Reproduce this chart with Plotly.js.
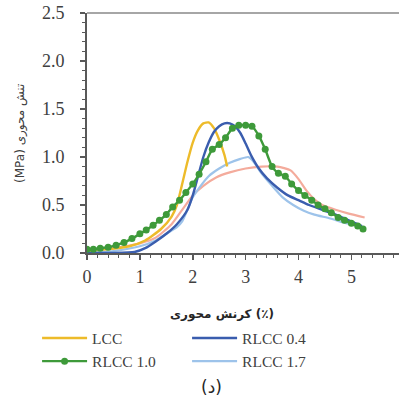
<!DOCTYPE html>
<html><head><meta charset="utf-8">
<script src="https://cdn.plot.ly/plotly-3.0.1.min.js"></script>
<style>html,body{margin:0;padding:0;background:#fff}#c{width:399px;height:396px}</style>
</head><body><div id="c"></div>
<script>
// LCC
const lccX = [0, 0.4, 0.8, 1.1, 1.4, 1.6, 1.7, 1.8, 1.9, 2.0, 2.1, 2.2, 2.3, 2.4, 2.5, 2.6, 2.65];
const lccY = [0.02, 0.04, 0.07, 0.13, 0.25, 0.38, 0.5, 0.72, 0.95, 1.15, 1.28, 1.35, 1.36, 1.3, 1.18, 1.02, 0.9];
// RLCC 0.4
const r04X = [0, 0.5, 0.9, 1.1, 1.3, 1.5, 1.7, 1.9, 2.0, 2.1, 2.2, 2.3, 2.4, 2.5, 2.6, 2.7, 2.8, 2.9, 3.0, 3.1, 3.25, 3.4, 3.6, 3.8, 4.0, 4.2, 4.45, 4.7, 4.95, 5.2];
const r04Y = [0.0, 0.0, 0.01, 0.05, 0.12, 0.2, 0.3, 0.45, 0.6, 0.8, 1.0, 1.15, 1.26, 1.32, 1.35, 1.35, 1.32, 1.25, 1.14, 1.02, 0.88, 0.78, 0.68, 0.6, 0.55, 0.5, 0.45, 0.4, 0.34, 0.28];
// RLCC 1.0
const r10X = [0, 0.12, 0.25, 0.4, 0.55, 0.7, 0.85, 1.0, 1.12, 1.25, 1.37, 1.5, 1.62, 1.75, 1.87, 2.0, 2.12, 2.25, 2.37, 2.5, 2.62, 2.75, 2.87, 3.0, 3.12, 3.25, 3.37, 3.5, 3.62, 3.75, 3.87, 4.0, 4.12, 4.25, 4.37, 4.5, 4.62, 4.75, 4.87, 5.0, 5.12, 5.22];
const r10Y = [0.04, 0.04, 0.05, 0.06, 0.08, 0.11, 0.15, 0.2, 0.24, 0.29, 0.34, 0.4, 0.48, 0.55, 0.63, 0.72, 0.82, 0.95, 1.08, 1.13, 1.2, 1.3, 1.33, 1.33, 1.32, 1.22, 1.08, 0.9, 0.83, 0.8, 0.72, 0.65, 0.6, 0.55, 0.5, 0.46, 0.42, 0.37, 0.34, 0.31, 0.28, 0.25];
// RLCC 1.7
const r17X = [0, 0.5, 1.0, 1.3, 1.5, 1.7, 1.8, 1.9, 2.0, 2.15, 2.3, 2.5, 2.7, 2.9, 3.05, 3.15, 3.3, 3.5, 3.7, 3.9, 4.1, 4.3, 4.6, 4.9, 5.2];
const r17Y = [0.0, 0.02, 0.07, 0.13, 0.2, 0.27, 0.33, 0.45, 0.58, 0.7, 0.8, 0.88, 0.94, 0.98, 1.0, 0.95, 0.83, 0.7, 0.58, 0.5, 0.44, 0.4, 0.36, 0.31, 0.27];
// unlabelled salmon curve
const extX = [0, 0.5, 1.0, 1.3, 1.6, 1.8, 2.0, 2.2, 2.45, 2.7, 3.0, 3.3, 3.6, 3.85, 4.0, 4.15, 4.3, 4.45, 4.7, 4.95, 5.25];
const extY = [0.02, 0.05, 0.1, 0.16, 0.3, 0.45, 0.6, 0.7, 0.79, 0.84, 0.88, 0.9, 0.9, 0.86, 0.77, 0.65, 0.56, 0.5, 0.45, 0.41, 0.37];

const xTicks = [0, 1, 2, 3, 4, 5];
const yTicks = [0, 0.5, 1.0, 1.5, 2.0, 2.5];
const yTickText = ['0.0', '0.5', '1.0', '1.5', '2.0', '2.5'];

const ln = (c, w) => ({color: c, width: w, shape: 'spline', smoothing: 0.6});
const traces = [
  {x: extX, y: extY, mode: 'lines', line: ln('#F4AB9C', 2.2), showlegend: false, name: ''},
  {x: r17X, y: r17Y, mode: 'lines', line: ln('#9DC3EA', 2.2), name: 'RLCC 1.7', legendrank: 4},
  {x: lccX, y: lccY, mode: 'lines', line: ln('#EDBB2A', 2.4), name: 'LCC', legendrank: 1},
  {x: r04X, y: r04Y, mode: 'lines', line: ln('#3A5DAE', 2.4), name: 'RLCC 0.4', legendrank: 2},
  {x: r10X, y: r10Y, mode: 'lines+markers', line: ln('#3E9A3A', 2.4), marker: {color: '#3E9A3A', size: 7, symbol: 'circle'}, name: 'RLCC 1.0', legendrank: 3}
];

const axColor = '#595959';
const serif = '"Liberation Serif", "Times New Roman", Times, serif';
const tf = {family: serif, size: 18, color: '#404040'};
const layout = {
  width: 399, height: 396,
  margin: {l: 87, r: 0, t: 13, b: 143},
  paper_bgcolor: '#fff', plot_bgcolor: '#fff',
  font: tf,
  showlegend: true,
  xaxis: {
    range: [0, 5.9], showgrid: false, zeroline: false,
    showline: true, linecolor: axColor, linewidth: 2,
    tickmode: 'array', tickvals: xTicks, ticktext: xTicks.map(String),
    ticks: 'outside', ticklen: 5, tickwidth: 1.5, tickcolor: axColor,
    minor: {dtick: 0.2, ticks: 'outside', ticklen: 3, tickwidth: 1, tickcolor: axColor},
    tickfont: tf,
    ticklabelstandoff: 1
  },
  xaxis2: {
    overlaying: 'x', matches: 'x', range: [0, 5.9], showgrid: false, zeroline: false, showline: false,
    tickmode: 'array', tickvals: xTicks, showticklabels: false,
    ticks: 'inside', ticklen: 4, tickwidth: 1.5, tickcolor: axColor,
    minor: {dtick: 0.2, ticks: 'inside', ticklen: 3, tickwidth: 1, tickcolor: axColor},
    anchor: 'y'
  },
  yaxis: {
    range: [0, 2.5], showgrid: false, zeroline: false,
    showline: true, linecolor: axColor, linewidth: 2,
    tickmode: 'array', tickvals: yTicks, ticktext: yTickText,
    ticks: 'outside', ticklen: 5, tickwidth: 1.5, tickcolor: axColor,
    minor: {dtick: 0.1, ticks: 'outside', ticklen: 3, tickwidth: 1, tickcolor: axColor},
    tickfont: tf,
    ticklabelstandoff: 12
  },
  yaxis2: {
    overlaying: 'y', range: [0, 2.5], showgrid: false, zeroline: false, showline: false,
    tickmode: 'array', tickvals: yTicks, showticklabels: false,
    ticks: 'inside', ticklen: 4, tickwidth: 1.5, tickcolor: axColor,
    minor: {dtick: 0.1, ticks: 'inside', ticklen: 3, tickwidth: 1, tickcolor: axColor},
    anchor: 'x'
  },
  shapes: [
    {type: 'line', xref: 'paper', yref: 'paper', x0: 0, x1: 1, y0: 1, y1: 1, line: {color: '#A6A6A6', width: 2}}
  ],
  legend: {
    orientation: 'h', x: -0.16, xanchor: 'left', y: -0.285, yanchor: 'top',
    font: {family: serif, size: 15.5, color: '#404040'},
    entrywidth: 90, entrywidthmode: 'pixels', itemwidth: 45,
    tracegroupgap: 0, bgcolor: 'rgba(0,0,0,0)'
  },
  annotations: [
    {xref: 'paper', yref: 'paper', x: 0.433, y: -0.257, xanchor: 'center', yanchor: 'middle', showarrow: false,
     text: '<b>کرنش محوری (٪)</b>', font: {family: 'DejaVu Sans', size: 12, color: '#262626'}},
    {xref: 'paper', yref: 'paper', x: -0.215, y: 0.5, xanchor: 'center', yanchor: 'middle', showarrow: false, textangle: -90,
     text: '(MPa) تنش محوری', font: {family: 'DejaVu Sans', size: 12, color: '#404040'}},
    {xref: 'paper', yref: 'paper', x: 0.4, y: -0.56, xanchor: 'center', yanchor: 'middle', showarrow: false,
     text: '(د)', font: {family: 'DejaVu Sans', size: 17, color: '#262626'}}
  ]
};
Plotly.newPlot('c', traces, layout, {displayModeBar: false, staticPlot: true});
</script></body></html>
